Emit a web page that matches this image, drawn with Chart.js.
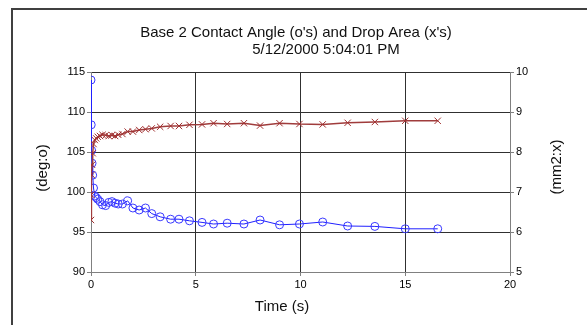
<!DOCTYPE html>
<html lang="en">
<head>
<meta charset="UTF-8">
<title>Contact Angle and Drop Area</title>
<style>
    * { margin: 0; padding: 0; }
    body { background: #fff; }
    .container { position: relative; width: 587px; height: 325px; }
</style>
</head>
<body>
<div class="container">
    <canvas id="chart" width="587" height="325"></canvas>
</div>
<script src="https://cdn.jsdelivr.net/npm/chart.js@4/dist/chart.umd.min.js"></script>
<script>
    // time in seconds, shared by both series
    var tempo = [0, 0.01, 0.03, 0.05, 0.08, 0.12, 0.18, 0.25, 0.32, 0.43,
        0.55, 0.7, 0.85, 1.0, 1.15, 1.3, 1.5, 1.75, 2.0, 2.3,
        2.6, 2.9, 3.3, 3.8, 4.2, 4.7, 5.3, 5.85, 6.5, 7.3,
        8.07, 9.0, 9.95, 11.06, 12.25, 13.55, 15.0, 16.55]

    // contact angle (deg) - o's, left axis
    var angulo = [114.0, 108.4, 105.2, 103.6, 102.1, 100.5, 99.5, 99.3, 99.1, 98.8,
        98.4, 98.3, 98.7, 98.8, 98.6, 98.5, 98.5, 98.9, 98.0, 97.75,
        98.0, 97.3, 96.9, 96.6, 96.6, 96.4, 96.2, 96.0, 96.1, 96.0,
        96.5, 95.9, 96.0, 96.25, 95.75, 95.7, 95.4, 95.4]

    // drop area (mm2) - x's, right axis
    var area = [6.3, 6.93, 7.43, 7.68, 7.97, 8.2, 8.3, 8.34, 8.38, 8.4,
        8.43, 8.42, 8.4, 8.42, 8.4, 8.43, 8.45, 8.51, 8.51, 8.55,
        8.57, 8.59, 8.63, 8.65, 8.65, 8.68, 8.69, 8.72, 8.7, 8.72,
        8.66, 8.72, 8.7, 8.69, 8.73, 8.75, 8.78, 8.78]

    var titulo1 = "Base 2 Contact Angle (o's) and Drop Area (x's)"
    var titulo2 = "5/12/2000 5:04:01 PM"
    var tituloY = "(deg:o)"
    var tituloY1 = "(mm2:x)"
    var tituloX = "Time (s)"

    var fonte = '"Liberation Sans", Arial, sans-serif'

    function pontos(ys) {
        var p = []
        for (let i = 0; i < tempo.length; i++) {
            p.push({ x: tempo[i], y: ys[i] })
        }
        return p
    }

    // frame and texts drawn around the plot
    var textos = {
        id: 'textos',
        beforeDraw: function (chart) {
            var c = chart.ctx
            c.save()
            c.strokeStyle = '#404040'
            c.lineWidth = 2
            c.strokeRect(12, 9, 620, 360)
            c.restore()
        },
        afterDraw: function (chart) {
            var c = chart.ctx
            var a = chart.chartArea
            c.save()
            c.fillStyle = '#111'
            c.font = '15px ' + fonte
            c.textAlign = 'center'
            c.textBaseline = 'middle'
            c.fillText(titulo1, 296, 33)
            c.fillText(titulo2, 326, 50)
            c.fillText(tituloX, 282, a.bottom + 35)

            c.translate(43, 168)
            c.rotate(-Math.PI / 2)
            c.fillText(tituloY, 0, 0)
            c.restore()

            c.save()
            c.fillStyle = '#111'
            c.font = '15px ' + fonte
            c.textAlign = 'center'
            c.textBaseline = 'middle'
            c.translate(557, 167)
            c.rotate(-Math.PI / 2)
            c.fillText(tituloY1, 0, 0)
            c.restore()
        }
    }

    var ctx = document.getElementById('chart').getContext('2d');
    var myChart = new Chart(ctx, {
        type: 'line',
        data: {
            datasets: [{
                label: 'Drop Area',
                data: pontos(area),
                yAxisID: 'y1',
                borderColor: '#a03c3c',
                backgroundColor: 'transparent',
                borderWidth: 1.5,
                pointStyle: 'crossRot',
                pointRadius: 4.5,
                pointBorderColor: '#a03030',
                pointBorderWidth: 1,
                tension: 0
            }, {
                label: 'Contact Angle',
                data: pontos(angulo),
                yAxisID: 'y',
                borderColor: '#2020ff',
                backgroundColor: 'transparent',
                borderWidth: 1,
                pointStyle: 'circle',
                pointRadius: 4,
                pointBorderColor: '#3a3aff',
                pointBackgroundColor: 'transparent',
                pointBorderWidth: 1,
                tension: 0
            }]
        },
        options: {
            responsive: false,
            animation: false,
            layout: { padding: { top: 72, left: 0, right: 0, bottom: 0 } },
            plugins: {
                legend: { display: false },
                title: { display: false },
                tooltip: { enabled: false }
            },
            scales: {
                x: {
                    type: 'linear', min: 0, max: 20,
                    afterFit: function (s) { s.height = 53 },
                    ticks: { stepSize: 5, color: '#000', font: { family: fonte, size: 11 }, padding: 2, maxRotation: 0 },
                    grid: { color: '#303030', tickLength: 4, tickColor: '#808080' },
                    border: { color: '#808080' }
                },
                y: {
                    position: 'left', min: 90, max: 115,
                    afterFit: function (s) { s.width = 91 },
                    ticks: { stepSize: 5, color: '#000', font: { family: fonte, size: 11 }, padding: 2 },
                    grid: { color: '#303030', tickLength: 4, tickColor: '#808080' },
                    border: { color: '#808080' }
                },
                y1: {
                    position: 'right', min: 5, max: 10,
                    afterFit: function (s) { s.width = 77 },
                    ticks: { stepSize: 1, color: '#000', font: { family: fonte, size: 11 }, padding: 2 },
                    grid: { drawOnChartArea: false, tickLength: 4, tickColor: '#808080' },
                    border: { color: '#808080' }
                }
            }
        },
        plugins: [textos]
    });
</script>
</body>
</html>
